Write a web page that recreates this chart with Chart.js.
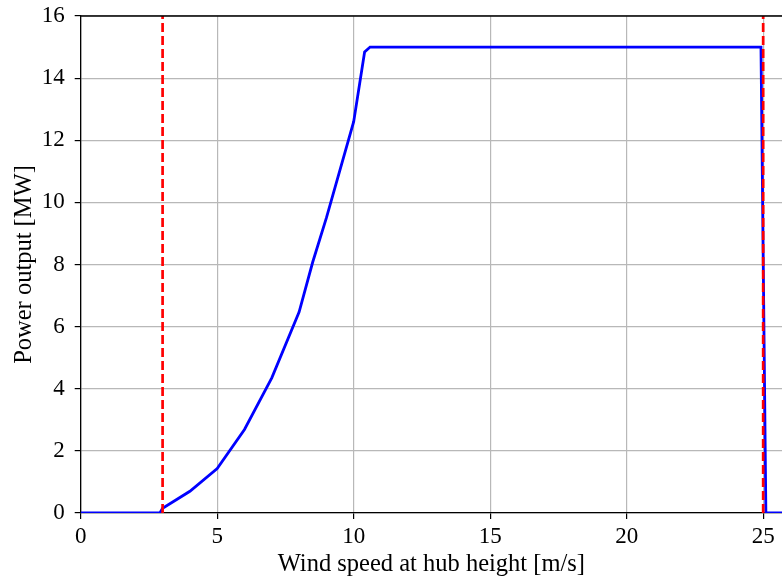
<!DOCTYPE html>
<html>
<head>
<meta charset="utf-8">
<script src="https://cdn.jsdelivr.net/npm/chart.js@4/dist/chart.umd.min.js"></script>
<style>
  html,body{margin:0;padding:0;background:#fff;}
  #wrap{width:782px;height:578px;}
</style>
</head>
<body>
<div id="wrap"><canvas id="curve" width="782" height="578"></canvas></div>
<script>
// power curve (wind speed m/s -> MW)
const windSpeed = [0, 2.9, 3, 4, 5, 6, 7, 8, 8.5, 9, 10, 10.4, 10.6, 24.92, 25.1, 26];
const powerMW   = [0, 0, 0.15, 0.7, 1.43, 2.69, 4.35, 6.47, 8.08, 9.5, 12.6, 14.84, 15, 15, 0, 0];
// cut-in / cut-out markers
const cutIn = 3;
const cutOut = 25;
const xTicks = [0, 5, 10, 15, 20, 25];
const yTicks = [0, 2, 4, 6, 8, 10, 12, 14, 16];

const serif = "'Liberation Serif', 'Times New Roman', serif";

const vline = (x) => ({
  data: [{x: x, y: 0}, {x: x, y: 16}],
  borderColor: '#ff0000',
  borderWidth: 2.7,
  borderDash: [9, 4],
  pointRadius: 0,
  order: 0
});

// top spine
const topSpine = {
  id: 'topSpine',
  afterDatasetsDraw(chart){
    const {ctx, chartArea:a} = chart;
    ctx.save();
    ctx.strokeStyle = '#000';
    ctx.lineWidth = 1.3;
    ctx.beginPath();
    ctx.moveTo(a.left, a.top);
    ctx.lineTo(a.right, a.top);
    ctx.stroke();
    ctx.restore();
  }
};

new Chart(document.getElementById('curve'), {
  type: 'line',
  data: {
    datasets: [
      vline(cutIn),
      vline(cutOut),
      {
        data: windSpeed.map((w, i) => ({x: w, y: powerMW[i]})),
        borderColor: '#0000ff',
        borderWidth: 2.8,
        pointRadius: 0,
        tension: 0,
        order: 1
      }
    ]
  },
  options: {
    responsive: false,
    animation: false,
    layout: {padding: {top: 16, right: 0, left: 0, bottom: 0}},
    plugins: {legend: {display: false}, tooltip: {enabled: false}},
    scales: {
      x: {
        type: 'linear',
        min: 0,
        max: 25.69,
        afterBuildTicks: s => { s.ticks = xTicks.map(v => ({value: v})); },
        afterFit: s => { s.height = 65; s.paddingLeft = 0; s.paddingRight = 0; },
        border: {color: '#000', width: 1.3},
        grid: {color: '#b8b8b8', lineWidth: 1.2, tickColor: '#000', tickLength: 6},
        ticks: {color: '#000', font: {family: serif, size: 23}, padding: 4, maxRotation: 0},
        title: {display: true, text: 'Wind speed at hub height [m/s]', color: '#000',
                font: {family: serif, size: 24.5}, padding: {top: 0, bottom: -1}}
      },
      y: {
        min: 0,
        max: 16,
        afterBuildTicks: s => { s.ticks = yTicks.map(v => ({value: v})); },
        afterFit: s => { s.width = 80.7; s.paddingTop = 0; s.paddingBottom = 0; },
        border: {color: '#000', width: 1.3},
        grid: {color: '#b8b8b8', lineWidth: 1.2, tickColor: '#000', tickLength: 6},
        ticks: {color: '#000', font: {family: serif, size: 23}, padding: 10},
        title: {display: true, text: 'Power output [MW]', color: '#000',
                font: {family: serif, size: 24.5}, padding: {top: 10, bottom: 0}}
      }
    }
  },
  plugins: [topSpine]
});
</script>
</body>
</html>
